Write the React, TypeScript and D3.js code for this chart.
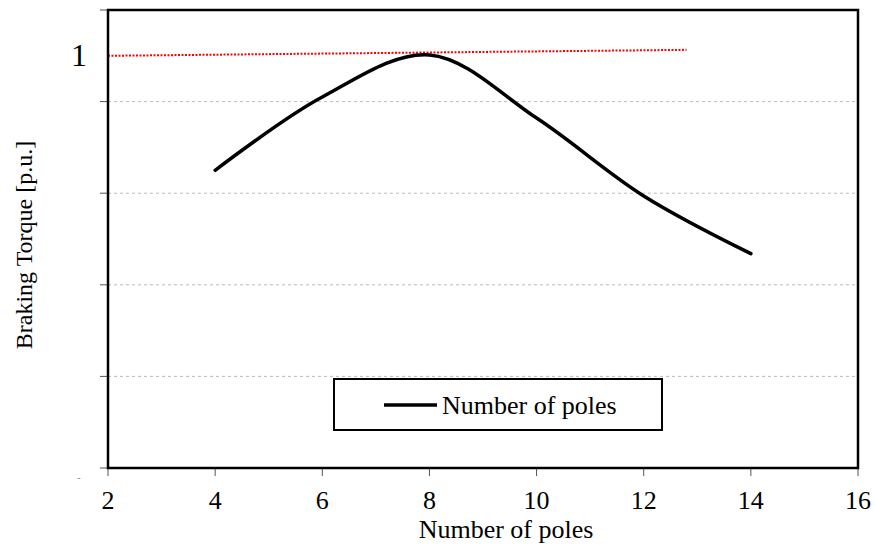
import React from "react";
import * as d3 from "d3";

const poles = [4, 6, 8, 10, 12, 14];
const torque = [0.875, 0.955, 1.001, 0.932, 0.847, 0.784];
const refX = [2, 12.8];
const refY = [1.0, 1.0065];
const xTicks = [2, 4, 6, 8, 10, 12, 14, 16];
const yTicks = [0.55, 0.65, 0.75, 0.85, 0.95, 1.05];
const yLabelTicks = [1];
const legendLabel = "Number of poles";
const xTitle = "Number of poles";
const yTitle = "Braking Torque [p.u.]";

const W = 875;
const H = 547;
const M = { left: 108, right: 858, top: 10, bottom: 468 };
const FONT = "Liberation Serif, Times New Roman, DejaVu Serif, serif";

export default function App() {
  const x = d3.scaleLinear().domain([2, 16]).range([M.left, M.right]);
  const y = d3.scaleLinear().domain([0.55, 1.05]).range([M.bottom, M.top]);

  const line = d3
    .line<number>()
    .x((_, i) => x(poles[i]))
    .y((d) => y(d))
    .curve(d3.curveCatmullRom.alpha(0.5));

  const refLine = d3
    .line<number>()
    .x((_, i) => x(refX[i]))
    .y((d) => y(d));

  const ts = { fontFamily: FONT };

  return (
    <svg
      width={W}
      height={H}
      style={{ position: "absolute", left: 0, top: 0, background: "#fff", fontFamily: FONT }}
    >
      <rect x={0} y={0} width={W} height={H} fill="#fff" />
      {yTicks.slice(1, -1).map((t) => (
        <line
          key={"g" + t}
          x1={M.left}
          x2={M.right}
          y1={y(t)}
          y2={y(t)}
          stroke="#bbb"
          strokeWidth={1}
          strokeDasharray="3,3"
        />
      ))}
      {yTicks.map((t) => (
        <line key={"yt" + t} x1={M.left - 8} x2={M.left} y1={y(t)} y2={y(t)} stroke="#555" strokeWidth={1} />
      ))}
      {xTicks.map((t) => (
        <line key={"xt" + t} x1={x(t)} x2={x(t)} y1={M.bottom} y2={M.bottom + 8} stroke="#555" strokeWidth={1} />
      ))}
      <path
        d={refLine(refY) || ""}
        fill="none"
        stroke="#ff0000"
        strokeWidth={2}
        strokeDasharray="2,1.5"
      />
      <path
        d={line(torque) || ""}
        fill="none"
        stroke="#000"
        strokeWidth={3.5}
        strokeLinecap="round"
        strokeLinejoin="round"
      />
      <rect
        x={M.left}
        y={M.top}
        width={M.right - M.left}
        height={M.bottom - M.top}
        fill="none"
        stroke="#000"
        strokeWidth={2.5}
      />
      {xTicks.map((t) => (
        <text key={"xl" + t} x={x(t)} y={509} textAnchor="middle" style={ts} fontSize={26} fill="#000">
          {t}
        </text>
      ))}
      {yLabelTicks.map((t) => (
        <text key={"yl" + t} x={87} y={y(t) + 10} textAnchor="end" style={ts} fontSize={32} fill="#000">
          {t}
        </text>
      ))}
      <text x={79} y={481} textAnchor="middle" style={ts} fontSize={10} fill="#888">
        -
      </text>
      <text x={506} y={538} textAnchor="middle" style={ts} fontSize={26} fill="#000">
        {xTitle}
      </text>
      <text
        transform={`translate(32, ${(M.top + M.bottom) / 2 + 6}) rotate(-90)`}
        textAnchor="middle"
        style={ts}
        fontSize={24}
        fill="#000"
      >
        {yTitle}
      </text>
      <rect x={334} y={379} width={328} height={51} fill="#fff" stroke="#000" strokeWidth={2} />
      <line x1={384} x2={437} y1={405} y2={405} stroke="#000" strokeWidth={3.5} />
      <text x={442} y={414} style={ts} fontSize={26} fill="#000">
        {legendLabel}
      </text>
    </svg>
  );
}
